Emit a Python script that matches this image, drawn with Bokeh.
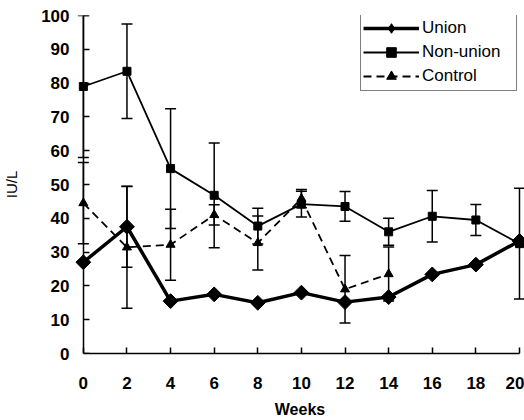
import numpy as np
from bokeh.plotting import figure
from bokeh.models import (ColumnDataSource, Whisker, TeeHead, Range1d, SingleIntervalTicker,
                          LinearAxis, Legend, LegendItem)
from bokeh.embed import file_html
from bokeh.resources import INLINE

weeks = [0, 2, 4, 6, 8, 10, 12, 14, 16, 18, 20]
union = [27, 37.5, 15.5, 17.5, 15, 18, 15.2, 16.7, 23.4, 26.3, 33.3]
union_err = [0, 12, 0, 0, 0, 0, 0, 0, 0, 0, 0]
nonunion = [79, 83.5, 54.7, 46.8, 37.7, 44.2, 43.5, 36, 40.6, 39.5, 32.5]
nonunion_err = [21, 14, 17.7, 15.5, 5.3, 3.8, 4.4, 4, 7.6, 4.6, 16.4]
control_weeks = [0, 2, 4, 6, 8, 10, 12, 14]
control = [44.5, 31.4, 32.2, 41, 32.7, 45.8, 19, 23.5]
control_err = [12, 18, 10.5, 3, 8, 2.7, 10, 8]
series_names = ["Union", "Non-union", "Control"]

FONT = "Liberation Sans"

p = figure(width=524, height=420, output_backend="svg", toolbar_location=None,
           x_range=Range1d(-0.36, 20.23), y_range=Range1d(0, 100),
           min_border_left=69, min_border_right=0, min_border_top=15, min_border_bottom=63)
p.outline_line_color = None
p.xgrid.visible = False
p.ygrid.visible = False
p.background_fill_color = "white"
p.border_fill_color = "white"

def err_source(xs, ys, es):
    xx = [x for x, e in zip(xs, es) if e > 0]
    up = [y + e for y, e in zip(ys, es) if e > 0]
    lo = [y - e for y, e in zip(ys, es) if e > 0]
    return ColumnDataSource(dict(x=xx, upper=up, lower=lo))

for xs, ys, es in [(weeks, nonunion, nonunion_err), (control_weeks, control, control_err), (weeks, union, union_err)]:
    src = err_source(xs, ys, es)
    w = Whisker(source=src, base="x", upper="upper", lower="lower", dimension="height",
                line_color="black", line_width=1.5,
                upper_head=TeeHead(size=11, line_color="black", line_width=1.5),
                lower_head=TeeHead(size=11, line_color="black", line_width=1.5))
    p.add_layout(w)

# Union
u_line = p.line(weeks, union, line_color="black", line_width=3.5)
# diamond markers used for the legend key (covered by the larger rotated squares in the plot)
u_key = p.scatter(weeks, union, marker="diamond", size=10, fill_color="black", line_color="black")
p.scatter(weeks, union, marker="square", angle=np.pi / 4, size=10.5, fill_color="black",
          line_color="black")
# Non-union
n_line = p.line(weeks, nonunion, line_color="black", line_width=1.8)
n_pts = p.scatter(weeks, nonunion, marker="square", size=8, fill_color="black", line_color="black")
# Control
c_line = p.line(control_weeks, control, line_color="black", line_width=1.8, line_dash="8 5")
c_pts = p.scatter(control_weeks, control, marker="triangle", size=9, fill_color="black", line_color="black")

# axes
p.xaxis.ticker = SingleIntervalTicker(interval=2)
p.yaxis.ticker = SingleIntervalTicker(interval=10)
p.yaxis.fixed_location = 0
p.xaxis.bounds = (0, 20)
for ax in (p.xaxis[0], p.yaxis[0]):
    ax.axis_line_color = "black"
    ax.axis_line_width = 1.5
    ax.major_tick_line_color = "black"
    ax.major_tick_line_width = 1.5
    ax.major_tick_in = 6
    ax.major_tick_out = 0
    ax.minor_tick_line_color = None
    ax.major_label_text_font = FONT
    ax.major_label_text_font_style = "bold"
    ax.major_label_text_font_size = "17px"
    ax.major_label_text_color = "black"
    ax.axis_label_text_font = FONT
    ax.axis_label_text_color = "black"
p.yaxis.major_label_text_color = None

p.xaxis.axis_label = "Weeks"
p.xaxis.axis_label_text_font_style = "bold"
p.xaxis.axis_label_text_font_size = "16px"
p.xaxis.major_label_standoff = 19
p.xaxis.axis_label_standoff = 9

# label-only axis in the left panel
lab_axis = LinearAxis(ticker=SingleIntervalTicker(interval=10),
                      axis_line_color=None, major_tick_line_color=None, minor_tick_line_color=None,
                      major_tick_in=0, major_tick_out=0, major_label_standoff=2,
                      major_label_text_font=FONT, major_label_text_font_style="bold",
                      major_label_text_font_size="17px", major_label_text_color="black",
                      axis_label="IU/L", axis_label_text_font=FONT, axis_label_text_font_style="normal",
                      axis_label_text_font_size="15px", axis_label_text_color="black",
                      axis_label_standoff=18)
p.add_layout(lab_axis, "left")

lg = Legend(items=[LegendItem(label=series_names[0], renderers=[u_line, u_key]),
                   LegendItem(label=series_names[1], renderers=[n_line, n_pts]),
                   LegendItem(label=series_names[2], renderers=[c_line, c_pts])])
p.add_layout(lg, "center")
lg.location = (285, 262)
lg.border_line_color = "black"
lg.border_line_width = 1
lg.background_fill_color = "white"
lg.background_fill_alpha = 1
lg.padding = 2
lg.margin = 0
lg.spacing = -1
lg.glyph_width = 56
lg.glyph_height = 24
lg.label_height = 24
lg.label_width = 92
lg.label_standoff = 3
lg.label_text_font = FONT
lg.label_text_font_size = "17px"
lg.label_text_color = "black"

open("out.html", "w").write(file_html(p, INLINE))
